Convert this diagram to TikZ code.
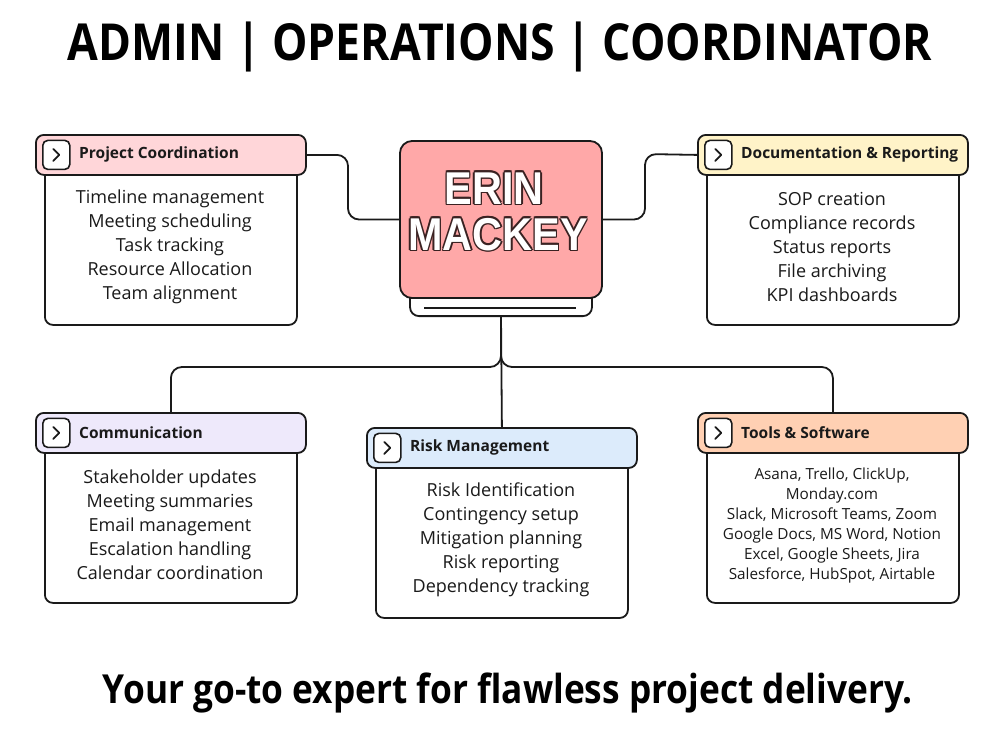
\documentclass[tikz,border=0pt]{standalone}
\usepackage{fontspec}
\setmainfont{Open Sans}
\newfontfamily\namefont{Liberation Sans}
\usetikzlibrary{calc}
\definecolor{ink}{HTML}{1A1A1A}
\definecolor{olc}{HTML}{3A2222}
\definecolor{cpink}{HTML}{FFD6D9}
\definecolor{cred}{HTML}{FFA8A8}
\definecolor{cyellow}{HTML}{FFF3C8}
\definecolor{clav}{HTML}{EEE9FB}
\definecolor{cblue}{HTML}{DCEBFB}
\definecolor{cpeach}{HTML}{FFD0B3}
\newcommand\olpart[3]{\rlap{\kern#1\raisebox{#2}{\textcolor{olc}{#3}}}}
\newcommand\olt[1]{\olpart{1.6pt}{0pt}{#1}\olpart{-1.6pt}{0pt}{#1}\olpart{0pt}{1.6pt}{#1}\olpart{0pt}{-1.6pt}{#1}\olpart{1.15pt}{1.15pt}{#1}\olpart{-1.15pt}{1.15pt}{#1}\olpart{1.15pt}{-1.15pt}{#1}\olpart{-1.15pt}{-1.15pt}{#1}\textcolor{white}{#1}}
\tikzset{
  hdrbox/.style={draw=ink, line width=1.8pt, rounded corners=8pt, inner sep=0pt, minimum width=270pt, minimum height=40pt},
  bodybox/.style={draw=ink, fill=white, line width=1.8pt, rounded corners=8pt, inner sep=0pt, minimum width=252pt, minimum height=165pt},
  iconbox/.style={draw=ink, fill=white, line width=1.6pt, rounded corners=5pt, inner sep=0pt, minimum width=27pt, minimum height=29pt},
  chev/.style={draw=ink, line width=1.8pt, line cap=round, line join=round},
  hdrtext/.style={inner sep=0pt, font=\fontsize{15.5}{20}\selectfont\bfseries, text=ink},
  bodytext/.style={inner sep=0pt, align=center, font=\fontsize{18}{24}\selectfont, text=ink},
  tooltext/.style={inner sep=0pt, align=center, font=\fontsize{15.3}{20}\selectfont, text=ink},
  conn/.style={draw=ink, line width=1.8pt, rounded corners=11pt},
  nametext/.style={inner sep=0pt, font=\namefont\fontsize{46}{46}\selectfont\bfseries},
}
\newcommand\card[5]{%
  \node[bodybox, anchor=north west] (#1b) at (#2+9,#3+25) {};
  \node[hdrbox, fill=#4, anchor=north west] (#1) at (#2,#3) {};
  \node[iconbox, anchor=west] (#1i) at ($(#1.west)+(7,0)$) {};
  \draw[chev] ($(#1i.center)+(-3,-6)$) -- ++(6,6) -- ++(-6,6);
  \node[hdrtext, anchor=west] (#1t) at ($(#1.west)+(44,0)$) {#5};
}
\begin{document}
\begin{tikzpicture}[x=1pt,y=-1pt]
\useasboundingbox[fill=white] (0,0) rectangle (1000,750);

% title
\node[inner sep=0pt, anchor=base, text=black] (title) at (500,60)
  {\resizebox{864pt}{\height}{\fontsize{51}{51}\selectfont\bfseries ADMIN | OPERATIONS | COORDINATOR}};

% center
\node[draw=ink, fill=white, line width=1.8pt, rounded corners=9pt, minimum width=182pt, minimum height=34pt, anchor=south] (tab) at (501,317) {};
\draw[ink, line width=2.4pt] ($(tab.south west)+(15,-9)$) coordinate (tl1) -- ($(tab.south east)+(-17,-9)$) coordinate (tl2);
\node[draw=ink, fill=cred, line width=1.8pt, rounded corners=12pt, minimum width=202pt, minimum height=157pt] (center) at (501,219.5) {};
\node[nametext, anchor=base] (erin) at (494,204) {\scalebox{0.9}[1]{\olt{ERIN}}};
\node[nametext, anchor=base] (mackey) at (498,250) {\scalebox{0.9}[1]{\olt{MACKEY}}};

% cards
\card{pc}{35}{134}{cpink}{Project Coordination}
\card{dr}{697}{134}{cyellow}{Documentation \& Reporting}
\card{cm}{35}{412}{clav}{Communication}
\card{rk}{366}{427}{cblue}{Risk Management}
\card{ts}{697}{412}{cpeach}{Tools \& Software}

\node[bodytext] (pcx) at (170,247) {Timeline management\\Meeting scheduling\\Task tracking\\Resource Allocation\\Team alignment};
\node[bodytext] (drx) at (832,247) {SOP creation\\Compliance records\\Status reports\\File archiving\\KPI dashboards};
\node[bodytext] (cmx) at (170,525) {Stakeholder updates\\Meeting summaries\\Email management\\Escalation handling\\Calendar coordination};
\node[bodytext] (rkx) at (501,540) {Risk Identification\\Contingency setup\\Mitigation planning\\Risk reporting\\Dependency tracking};
\node[tooltext] (tsx) at (832,526) {Asana, Trello, ClickUp,\\Monday.com\\Slack, Microsoft Teams, Zoom\\Google Docs, MS Word, Notion\\Excel, Google Sheets, Jira\\Salesforce, HubSpot, Airtable};

% connectors
\coordinate (c1) at (348,219.5);
\coordinate (c2) at (645,154);
\draw[conn] (pc.east) -| (c1) -- (center.west);
\draw[conn] (center.east) -| (c2) -- (dr.west);
\draw[conn] (tab.south) -- ++(0,50) -| (cm.north);
\draw[conn] (tab.south) -- ++(0,50) -| (ts.north);
\draw[conn] (tab.south) -- (rk.north);

% tagline
\node[inner sep=0pt, anchor=base, text=black] (tag) at (508,703)
  {\resizebox{810pt}{\height}{\fontsize{40}{40}\selectfont\bfseries Your go-to expert for flawless project delivery.}};
\end{tikzpicture}
\end{document}
